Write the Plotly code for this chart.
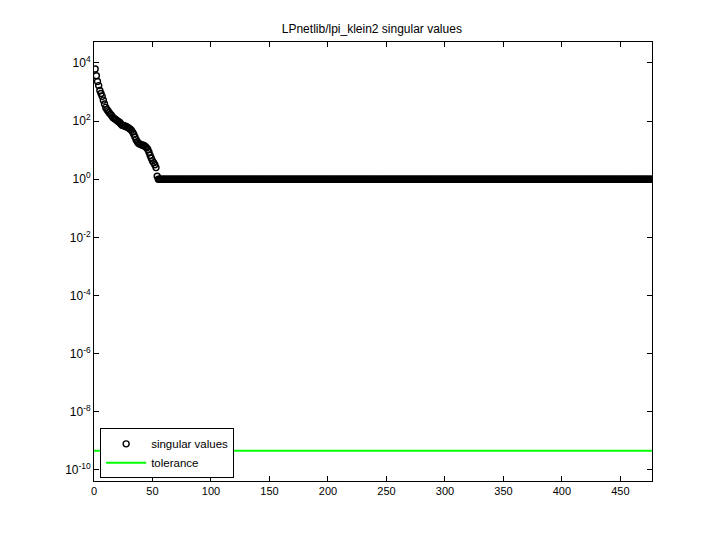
import plotly.graph_objects as go

# Leading singular values, rest are ~1
lead_values = [6170, 3630, 2290, 1660, 1120, 891, 708, 525, 389, 295,
               251, 224, 195, 174, 155, 135, 126, 117, 110, 102,
               95.5, 89.1, 79.4, 72.4, 70.8, 67.6, 66.1, 63.1, 60.3, 56.2,
               52.5, 47.9, 41.7, 35.5, 28.2, 22.9, 19.5, 17.4, 16.2, 15.5,
               15.1, 14.8, 14.1, 13.2, 12.0, 10.5, 8.5, 6.6, 5.25, 4.27,
               3.72, 3.16, 2.51, 1.26]
n_total = 477
flat_value = 1.0
tolerance = 4.6e-10

x_ticks = [0, 50, 100, 150, 200, 250, 300, 350, 400, 450]
y_exponents = [4, 2, 0, -2, -4, -6, -8, -10]

sv = lead_values + [flat_value] * (n_total - len(lead_values))
idx = list(range(1, n_total + 1))

fig = go.Figure()
fig.add_trace(go.Scatter(
    x=idx, y=sv, mode="markers", name="singular values",
    marker=dict(symbol="circle-open", color="black", size=6,
                line=dict(width=1.4, color="black")),
))
fig.add_trace(go.Scatter(
    x=[0, n_total], y=[tolerance, tolerance], mode="lines", name="tolerance",
    line=dict(color="#00ff00", width=2),
))

axis_common = dict(
    showline=True, linecolor="black", linewidth=1, mirror="ticks",
    ticks="inside", ticklen=5, tickcolor="black", showgrid=False,
    zeroline=False, automargin=False,
)

fig.update_layout(
    width=712, height=532,
    paper_bgcolor="white", plot_bgcolor="white",
    margin=dict(l=86, r=68, t=34, b=59, autoexpand=False),
    title=dict(text="LPnetlib/lpi_klein2 singular values", x=0.511, xanchor="center",
               y=0.9605, yanchor="middle",
               font=dict(family="Liberation Sans, Arial", size=12, color="black")),
    xaxis=dict(range=[0, 477], tickvals=x_ticks,
               tickfont=dict(family="Liberation Sans, Arial", size=11, color="black"),
               **axis_common),
    yaxis=dict(type="log", range=[-10.38, 4.72],
               tickvals=[10.0 ** e for e in y_exponents],
               ticktext=["10<sup>%d</sup>" % e for e in y_exponents],
               tickfont=dict(family="Liberation Sans, Arial", size=12, color="black"),
               **axis_common),
    showlegend=True,
    legend=dict(x=0.011, y=0.006, xanchor="left", yanchor="bottom",
                bgcolor="white", bordercolor="black", borderwidth=1,
                font=dict(family="Liberation Sans, Arial", size=11.5, color="black"),
                tracegroupgap=0, itemwidth=40),
)

fig.write_html("out.html")
